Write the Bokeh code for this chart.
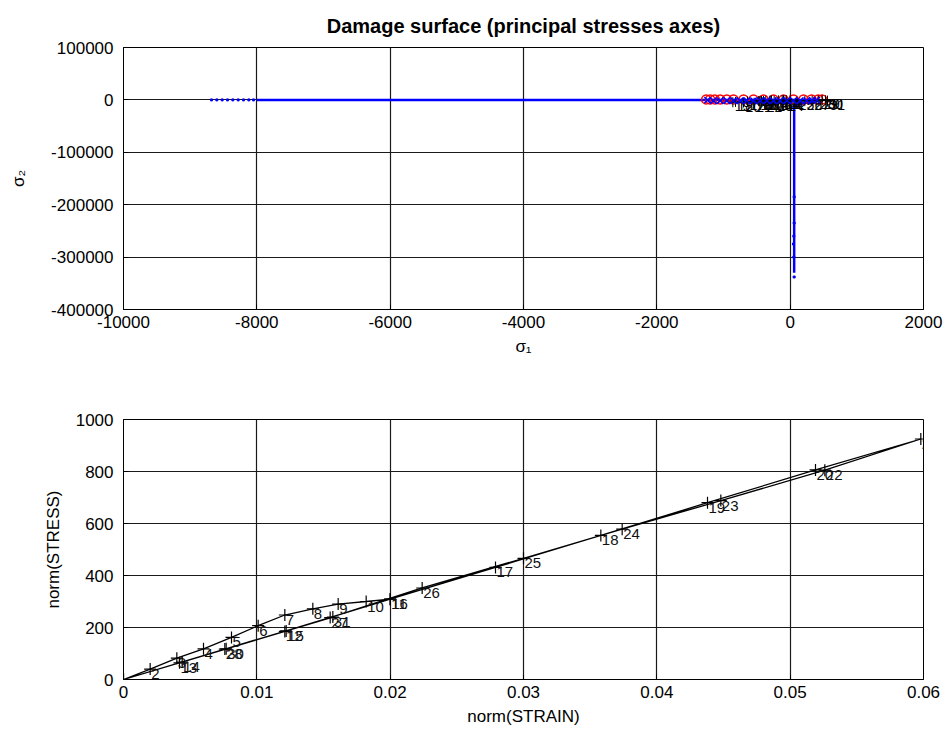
from bokeh.plotting import figure
from bokeh.layouts import column
from bokeh.models import Range1d, FixedTicker, CustomJSTickFormatter, ColumnDataSource, Title, Label
from bokeh.core.properties import value
from bokeh.embed import file_html
from bokeh.resources import INLINE

# ---------------- data ----------------
# Damage surface (principal stresses)
surf_s1 = [-8000, -6000, -4000, -2000, -1250, -600, 0, 450, 60, 60, 60, 60, 60]
surf_s2 = [0, 0, 0, 0, 0, 0, 0, 0, -10000, -100000, -200000, -300000, -330000]
surf_tail_s1 = [-8680, -8600, -8520, -8440, -8360, -8280, -8200, -8120, -8050]
surf_tail_s2 = [0, 0, 0, 0, 0, 0, 0, 0, 0]
vert_sparse_s1 = [60, 60, 55, 50, 55, 60]
vert_sparse_s2 = [-185000, -235000, -260000, -275000, -300000, -338000]

thr_s1 = [-1260, -1200, -1130, -1050, -950, -850, -700, -550, -400, -250, -100, 50, 200, 320, 420, 480]
thr_s2 = [1000, 1000, 1000, 1000, 1000, 1000, 1000, 1000, 1000, 1000, 1000, 1000, 1000, 1000, 1000, 1000]

blue_x_s1 = [-1240, -1150, -1050, -950, -850, -750, -650, -550, -450, -350, -250, -150, -50, 50, 150, 250, 330, 400]
blue_x_s2 = [-500, -1500, -1500, -1500, -1500, -1500, -1500, -1500, -1500, -1500, -1500, -1500, -1500, -1500, -1500, -1500, -1000, -500]

pt_s1 = [0, -60, -120, -175, -240, -305, -365, -400, -430, -450, -470, -280, -95, -100, -285,
         -470, -640, -820, -860, -700, -540, -380, -220, -60, 100, 220, 330, 420, 480, 530, 560]
pt_s2 = [0, -300, -600, -900, -1200, -1500, -1800, -2000, -2100, -2200, -2300, -1400, -500, -500, -1400,
         -2300, -3000, -3800, -4500, -5000, -5400, -5000, -4500, -3800, -3000, -2300, -1500, -800, 0, -800, -1500]
pt_lbl = [str(i) for i in range(1, 32)]

# Stress-strain path
strain = [0.0, 0.0020, 0.0040, 0.0060, 0.0081, 0.0101, 0.0121, 0.0142, 0.0161, 0.0182, 0.0200,
          0.0121, 0.0042, 0.0044, 0.0122, 0.0200, 0.0279, 0.0358, 0.0438, 0.0519, 0.0598,
          0.0526, 0.0448, 0.0374, 0.0300, 0.0224, 0.0155, 0.0076, 0.0, 0.0077, 0.0157]
stress = [0, 40, 82, 118, 162, 207, 248, 272, 290, 300, 309,
          185, 64, 67, 187, 309, 431, 554, 680, 806, 925,
          805, 688, 578, 466, 352, 238, 117, 0, 118, 240]
path_lbl = [str(i) for i in range(1, 32)]

top_xticks = [-10000, -8000, -6000, -4000, -2000, 0, 2000]
top_yticks = [-400000, -300000, -200000, -100000, 0, 100000]
bot_xticks = [0, 0.01, 0.02, 0.03, 0.04, 0.05, 0.06]
bot_yticks = [0, 200, 400, 600, 800, 1000]

FONT = "Liberation Sans"
fmt = CustomJSTickFormatter(code="return tick.toString();")


def style(p, xticks, yticks):
    p.xaxis.ticker = FixedTicker(ticks=xticks)
    p.yaxis.ticker = FixedTicker(ticks=yticks)
    for ax in (p.xaxis[0], p.yaxis[0]):
        ax.formatter = fmt
        ax.major_label_text_font = FONT
        ax.major_label_text_font_size = "17px"
        ax.major_label_text_color = "black"
        ax.axis_label_text_font = FONT
        ax.axis_label_text_font_size = "17px"
        ax.axis_label_text_font_style = "normal"
        ax.axis_label_text_color = "black"
        ax.axis_line_color = "black"
        ax.major_tick_line_color = "black"
        ax.major_tick_in = 5
        ax.major_tick_out = 0
        ax.minor_tick_line_color = None
    p.xaxis.major_label_standoff = 6
    p.yaxis.major_label_standoff = 10
    p.grid.grid_line_color = "#1a1a1a"
    p.grid.grid_line_width = 1.2
    p.outline_line_color = "black"
    p.outline_line_width = 1
    p.outline_line_alpha = 1
    p.background_fill_color = "white"
    p.border_fill_color = "white"


# ---------------- top figure ----------------
p1 = figure(width=950, height=369, output_backend="svg", toolbar_location=None,
            x_range=Range1d(-10000, 2000), y_range=Range1d(-400000, 100000),
            min_border_left=123, min_border_right=27, min_border_top=47, min_border_bottom=60)
p1.title = Title(text="Damage surface (principal stresses axes)", align="center",
                 text_font=FONT, text_font_size="20px", text_font_style="bold", text_color="black",
                 standoff=22)
style(p1, top_xticks, top_yticks)
p1.xaxis.axis_label = "σ₁"
p1.yaxis.axis_label = "σ₂"
p1.xaxis.axis_label_standoff = 6
p1.yaxis.axis_label_standoff = 20

p1.line(surf_s1, surf_s2, line_color="blue", line_width=2.5)
p1.scatter(surf_tail_s1, surf_tail_s2, marker="square", size=2, color="blue")
p1.scatter(vert_sparse_s1, vert_sparse_s2, marker="square", size=2, color="blue")
p1.scatter(thr_s1, thr_s2, marker="circle", size=9, fill_color=None, line_color="red", line_width=1.5)
p1.scatter(pt_s1, pt_s2, marker="cross", size=10, line_color="black", line_width=1)
src1 = ColumnDataSource(dict(x=pt_s1, y=pt_s2, t=pt_lbl))
p1.text(x="x", y="y", text="t", source=src1, text_font=value(FONT), text_font_size="14px",
        text_color="black", text_align="left", text_baseline="middle", x_offset=2, y_offset=4)
p1.scatter(blue_x_s1, blue_x_s2, marker="x", size=9, line_color="blue", line_width=1.5)

# ---------------- bottom figure ----------------
p2 = figure(width=950, height=369, output_backend="svg", toolbar_location=None,
            x_range=Range1d(0, 0.06), y_range=Range1d(0, 1000),
            min_border_left=123, min_border_right=27, min_border_top=50, min_border_bottom=59)
style(p2, bot_xticks, bot_yticks)
p2.xaxis.axis_label = "norm(STRAIN)"
p2.yaxis.axis_label = "norm(STRESS)"
p2.xaxis.axis_label_standoff = 6
p2.yaxis.axis_label_standoff = 10

p2.line(strain, stress, line_color="black", line_width=1.3)
p2.scatter(strain, stress, marker="cross", size=12, line_color="black", line_width=1.2)
for xs, ys, t in zip(strain, stress, path_lbl):
    p2.add_layout(Label(x=xs, y=ys, text=t, text_font=FONT, text_font_size="15px",
                        text_color="#111111", text_align="left", text_baseline="middle",
                        x_offset=1, y_offset=-5, level="overlay"))

layout = column(p1, p2, spacing=0)
open("out.html", "w").write(file_html(layout, INLINE))
